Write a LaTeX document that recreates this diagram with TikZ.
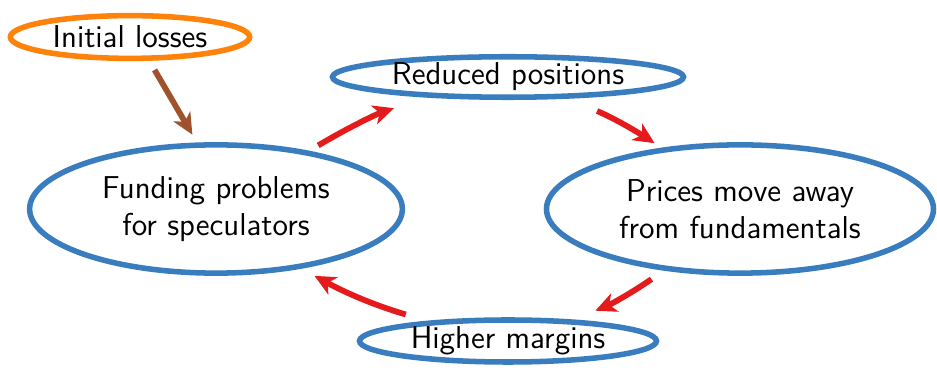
\documentclass[tikz,border=0pt]{standalone}
\usetikzlibrary{shapes.geometric}
\usetikzlibrary{arrows.meta}

\definecolor{cycleblue}{RGB}{58,125,190}
\definecolor{shockorange}{RGB}{255,130,10}
\definecolor{loopred}{RGB}{228,26,28}
\definecolor{shockbrown}{RGB}{160,82,45}

\begin{document}
\begin{tikzpicture}
[x=1cm/75,y=-1cm/75,%
  every node/.style={shape=ellipse,inner sep=0pt,line width=2.1pt,align=center,font=\sffamily\large},%
  stage/.style={draw=cycleblue},%
  shock/.style={draw=shockorange},%
  loop/.style={draw=loopred,line width=2.2pt,-{Stealth[length=0.28cm,width=0.26cm,inset=0.08cm]}},%
  feed/.style={draw=shockbrown,line width=2.2pt,-{Stealth[length=0.28cm,width=0.26cm,inset=0.08cm]}}]
\useasboundingbox (0,0) rectangle (937,374);
\node[shock,minimum width=3.19cm,minimum height=0.57cm] (init) at (130,37) {Initial losses};
\node[stage,minimum width=4.68cm,minimum height=0.54cm] (reduce) at (508,77) {Reduced positions};
\node[stage,minimum width=4.97cm,minimum height=1.71cm] (fund) at (216,209) {Funding problems\\for speculators};
\node[stage,minimum width=5.16cm,minimum height=1.71cm] (price) at (740,209) {Prices move away\\from fundamentals};
\node[stage,minimum width=3.96cm,minimum height=0.56cm] (margin) at (508,341) {Higher margins};
% shock into the cycle
\draw[feed,shorten <=0.14cm,shorten >=0.12cm] (init.309.6) -- (fund.106.4);
% the spiral
\draw[loop,shorten <=0.14cm,shorten >=0.45cm] (fund.32.5) to[bend left=6] (reduce.194.3);
\draw[loop,shorten <=0.46cm,shorten >=0.11cm] (reduce.339.8) to[bend left=6] (price.142.3);
\draw[loop,shorten <=0.2cm,shorten >=0.31cm] (price.219.8) to[bend left=6] (margin.18.2);
\draw[loop,shorten <=0.3cm,shorten >=0.2cm] (margin.166.8) to[bend left=6] (fund.325.9);
\end{tikzpicture}
\end{document}
